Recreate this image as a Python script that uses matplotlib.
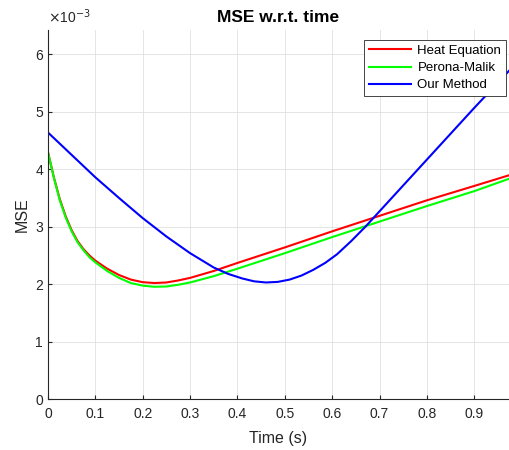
import matplotlib.pyplot as plt
import numpy as np

plt.rcParams['font.family'] = ['Liberation Sans', 'DejaVu Sans']

# MSE values in units of 1e-3
t_heat = [0, 0.0125, 0.025, 0.0375, 0.05, 0.0625, 0.075, 0.0875, 0.1, 0.125, 0.15, 0.175,
          0.2, 0.225, 0.25, 0.275, 0.3, 0.35, 0.4, 0.5, 0.6, 0.7, 0.8, 0.9, 0.975]
heat = [4.3, 3.86, 3.48, 3.18, 2.94, 2.75, 2.61, 2.5, 2.41, 2.27, 2.16, 2.08,
        2.035, 2.02, 2.03, 2.065, 2.11, 2.23, 2.37, 2.64, 2.92, 3.19, 3.46, 3.71, 3.9]

t_pm = [0, 0.0125, 0.025, 0.0375, 0.05, 0.0625, 0.075, 0.0875, 0.1, 0.125, 0.15, 0.175,
        0.2, 0.225, 0.25, 0.275, 0.3, 0.35, 0.4, 0.5, 0.6, 0.7, 0.8, 0.9, 0.975]
pm = [4.3, 3.85, 3.46, 3.16, 2.92, 2.73, 2.59, 2.47, 2.38, 2.23, 2.11, 2.02,
      1.975, 1.955, 1.96, 1.99, 2.03, 2.14, 2.27, 2.54, 2.82, 3.09, 3.36, 3.62, 3.84]

t_ours = [0, 0.05, 0.1, 0.15, 0.2, 0.25, 0.3, 0.35, 0.38, 0.41, 0.435, 0.46, 0.485, 0.51,
          0.535, 0.56, 0.585, 0.61, 0.64, 0.67, 0.7, 0.75, 0.8, 0.85, 0.9, 0.94, 0.975]
ours = [4.64, 4.25, 3.86, 3.5, 3.15, 2.83, 2.54, 2.29, 2.18, 2.1, 2.05, 2.03, 2.04, 2.08,
        2.15, 2.25, 2.37, 2.52, 2.75, 3.0, 3.27, 3.72, 4.17, 4.62, 5.07, 5.42, 5.73]

dark = (0.15, 0.15, 0.15)

fig = plt.figure(figsize=(5.1, 4.5), dpi=100)
ax = fig.add_axes([0.094, 0.113, 0.904, 0.82])

ax.plot(t_heat, np.array(heat) * 1e-3, color=(1, 0, 0), lw=1.5, label='Heat Equation')
ax.plot(t_pm, np.array(pm) * 1e-3, color=(0, 1, 0), lw=1.5, label='Perona-Malik')
ax.plot(t_ours, np.array(ours) * 1e-3, color=(0, 0, 1), lw=1.5, label='Our Method')

ax.set_xlim(0, 0.973)
ax.set_ylim(0, 6.42e-3)
ax.set_xticks(np.arange(0, 1.0, 0.1))
ax.set_xticklabels(['0', '0.1', '0.2', '0.3', '0.4', '0.5', '0.6', '0.7', '0.8', '0.9'])
ax.set_yticks(np.arange(0, 7) * 1e-3)
ax.set_yticklabels([str(i) for i in range(7)])
ax.tick_params(direction='in', length=3, labelsize=10, colors=dark)
ax.tick_params(axis='x', pad=6)
for s in ['top', 'right']:
    ax.spines[s].set_visible(False)
for s in ['left', 'bottom']:
    ax.spines[s].set_color(dark)
    ax.spines[s].set_linewidth(0.8)
ax.grid(True, color=(0.88, 0.88, 0.88), lw=0.6)
ax.set_axisbelow(True)

ax.text(0.0, 1.01, r'$\times$10$^{-3}$', transform=ax.transAxes, fontsize=10,
        color=dark, va='bottom', ha='left')
ax.set_title('MSE w.r.t. time', fontsize=12.5, fontweight='bold', pad=6)
ax.set_xlabel('Time (s)', fontsize=11.5, color=dark, labelpad=7)
ax.set_ylabel('MSE', fontsize=11.5, color=dark)

leg = ax.legend(loc='upper right', bbox_to_anchor=(0.9935, 0.973), fontsize=9.5,
                fancybox=False, framealpha=1, edgecolor=dark, borderaxespad=0,
                handlelength=3.2, labelspacing=0.38, borderpad=0.35, handletextpad=0.5)
leg.get_frame().set_linewidth(0.6)

fig.savefig('out.png', dpi=100)
